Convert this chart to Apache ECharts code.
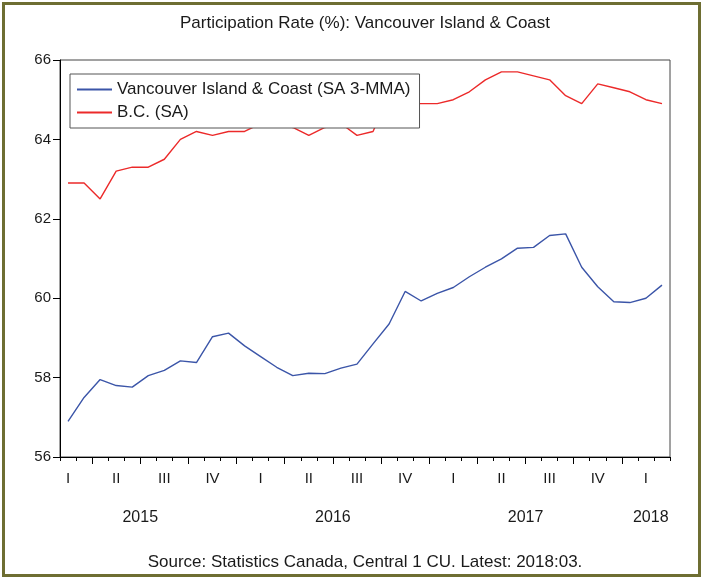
<!DOCTYPE html>
<html>
<head>
<meta charset="utf-8">
<script src="https://cdn.jsdelivr.net/npm/echarts@6/dist/echarts.min.js"></script>
<style>
  html, body { margin: 0; padding: 0; background: #fff; }
  #chart { width: 704px; height: 580px; }
</style>
</head>
<body>
<div id="chart"></div>
<script>
// monthly observations, Feb 2015 .. Mar 2018
const months = [
  '2015-02','2015-03','2015-04','2015-05','2015-06','2015-07','2015-08','2015-09','2015-10','2015-11','2015-12',
  '2016-01','2016-02','2016-03','2016-04','2016-05','2016-06','2016-07','2016-08','2016-09','2016-10','2016-11','2016-12',
  '2017-01','2017-02','2017-03','2017-04','2017-05','2017-06','2017-07','2017-08','2017-09','2017-10','2017-11','2017-12',
  '2018-01','2018-02','2018-03'
];
const quarterNames = ['I', 'II', 'III', 'IV'];

// Vancouver Island & Coast (SA 3-MMA)
const vicCoast = [
  56.9, 57.5, 57.95, 57.8, 57.76, 58.05, 58.18, 58.42, 58.38, 59.03, 59.12,
  58.8, 58.53, 58.26, 58.05, 58.11, 58.1, 58.24, 58.34, 58.85, 59.35, 60.17, 59.93,
  60.12, 60.27, 60.54, 60.78, 60.99, 61.26, 61.28, 61.58, 61.62, 60.78, 60.29, 59.91,
  59.89, 60.0, 60.33
];
// B.C. (SA)
const bc = [
  62.9, 62.9, 62.5, 63.2, 63.3, 63.3, 63.5, 64.0, 64.2, 64.1, 64.2,
  64.2, 64.4, 64.4, 64.3, 64.1, 64.3, 64.4, 64.1, 64.2, 65.1, 64.9, 64.9,
  64.9, 65.0, 65.2, 65.5, 65.7, 65.7, 65.6, 65.5, 65.1, 64.9, 65.4, 65.3,
  65.2, 65.0, 64.9
];

const monthNo = months.map(m => +m.slice(5));
const yearOf = months.map(m => m.slice(0, 4));

// tick / label positions on the month index scale
const allBounds = months.map((m, i) => i - 0.5).concat([months.length - 0.5]);
const quarterBounds = [];
const quarterMids = [];
monthNo.forEach((mo, i) => {
  if (mo % 3 === 1) quarterBounds.push(i - 0.5);
  if (mo % 3 === 2) quarterMids.push(i);
});
const years = [...new Set(yearOf)];
const yearPos = years.map(y => {
  const idx = months.map((m, i) => i).filter(i => yearOf[i] === y);
  const jul = months.indexOf(y + '-07');
  if (jul >= 0) return jul - 0.5;
  return idx.reduce((a, b) => a + b, 0) / idx.length + 0.3;
});

let myChart = echarts.init(document.getElementById('chart'));
const font = 'Liberation Sans';

let option = {
  animation: false,
  textStyle: { fontFamily: font },
  title: [
    {
      text: 'Participation Rate (%): Vancouver Island & Coast',
      left: 360, top: 10, textAlign: 'center',
      textStyle: { fontSize: 17, fontWeight: 'normal', color: '#1a1a1a', fontFamily: font }
    },
    {
      text: 'Source: Statistics Canada, Central 1 CU. Latest: 2018:03.',
      left: 360, top: 549, textAlign: 'center',
      textStyle: { fontSize: 17, fontWeight: 'normal', color: '#1a1a1a', fontFamily: font }
    }
  ],
  legend: {
    orient: 'vertical',
    left: 70, top: 74,
    padding: [6, 9, 6, 7],
    itemGap: 4,
    itemWidth: 35, itemHeight: 2,
    icon: 'rect',
    backgroundColor: '#fff',
    borderColor: '#555', borderWidth: 1,
    textStyle: { fontSize: 17, color: '#1a1a1a', fontFamily: font, lineHeight: 19 },
    data: ['Vancouver Island & Coast (SA 3-MMA)', 'B.C. (SA)']
  },
  grid: {
    left: 60, right: 34, top: 60, bottom: 123,
    show: true, borderColor: '#444', borderWidth: 1
  },
  xAxis: [
    {
      type: 'value', min: -0.5, max: months.length - 0.5,
      splitLine: { show: false },
      axisLine: { show: true, onZero: false, lineStyle: { color: '#000', width: 1 } },
      axisTick: { show: true, length: 4, customValues: allBounds, lineStyle: { color: '#000' } },
      axisLabel: {
        customValues: quarterMids, margin: 14,
        fontSize: 15, color: '#1a1a1a', fontFamily: font,
        formatter: v => quarterNames[Math.floor((monthNo[Math.round(v)] - 1) / 3)]
      }
    },
    {
      type: 'value', min: -0.5, max: months.length - 0.5,
      position: 'bottom',
      splitLine: { show: false },
      axisLine: { show: false, onZero: false },
      axisTick: { show: true, length: 7, customValues: quarterBounds, lineStyle: { color: '#000' } },
      axisLabel: {
        customValues: yearPos, margin: 53,
        fontSize: 16, color: '#1a1a1a', fontFamily: font,
        formatter: v => yearOf[Math.min(months.length - 1, Math.max(0, Math.round(v + 0.01)))]
      }
    }
  ],
  yAxis: {
    type: 'value', min: 56, max: 66, interval: 2,
    splitLine: { show: false },
    axisLine: { show: true, onZero: false, lineStyle: { color: '#000', width: 1 } },
    axisTick: { show: true, length: 7, lineStyle: { color: '#000' } },
    axisLabel: { margin: 9, fontSize: 15, color: '#1a1a1a', fontFamily: font }
  },
  series: [
    {
      name: 'Vancouver Island & Coast (SA 3-MMA)',
      type: 'line', symbol: 'none', xAxisIndex: 0,
      color: '#3b55a8',
      lineStyle: { color: '#3b55a8', width: 1.4 },
      data: vicCoast.map((v, i) => [i, v])
    },
    {
      name: 'B.C. (SA)',
      type: 'line', symbol: 'none', xAxisIndex: 0,
      color: '#ec2a2a',
      lineStyle: { color: '#ec2a2a', width: 1.4 },
      data: bc.map((v, i) => [i, v])
    }
  ],
  graphic: [
    {
      type: 'rect', silent: true, z: 100,
      shape: { x: 3.5, y: 3.5, width: 696, height: 572 },
      style: { fill: 'none', stroke: '#6e6e32', lineWidth: 3 }
    }
  ]
};

myChart.setOption(option);
</script>
</body>
</html>
